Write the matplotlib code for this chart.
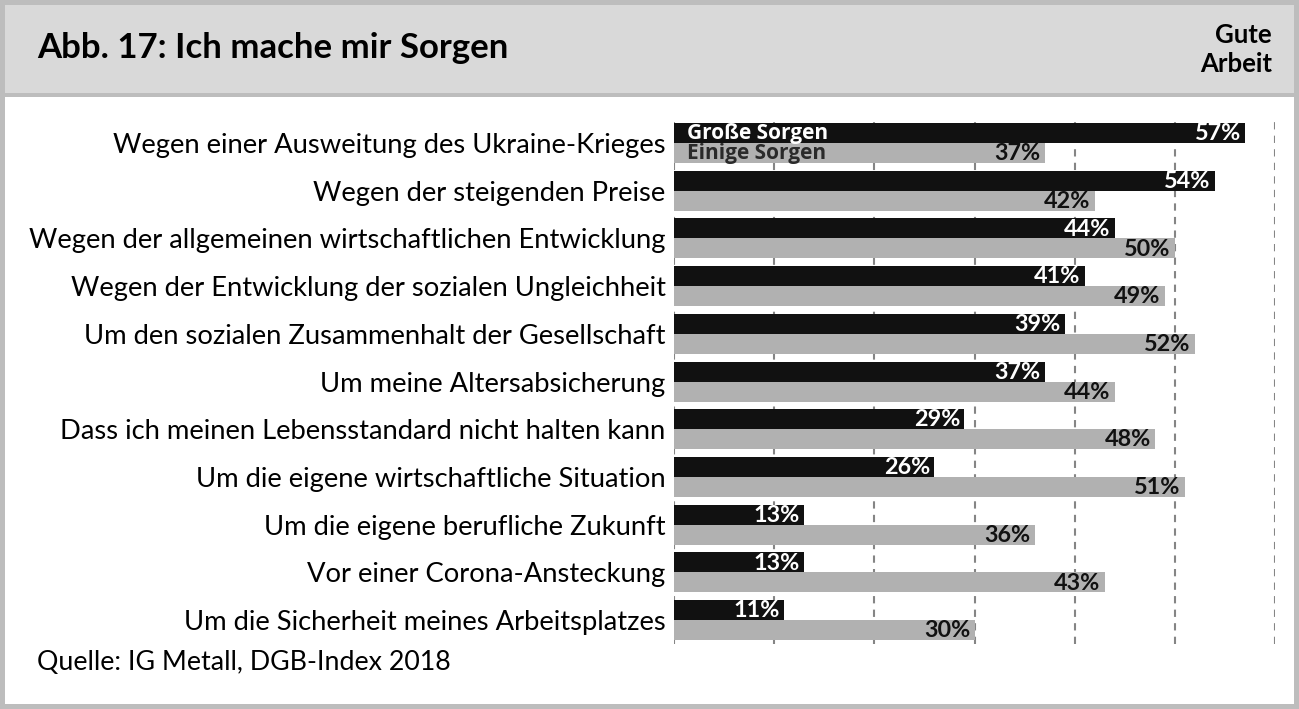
import matplotlib
matplotlib.use('Agg')
import matplotlib.pyplot as plt
from matplotlib.patches import Rectangle
import numpy as np

W, H = 1299, 709

categories = [
    'Wegen einer Ausweitung des Ukraine-Krieges',
    'Wegen der steigenden Preise',
    'Wegen der allgemeinen wirtschaftlichen Entwicklung',
    'Wegen der Entwicklung der sozialen Ungleichheit',
    'Um den sozialen Zusammenhalt der Gesellschaft',
    'Um meine Altersabsicherung',
    'Dass ich meinen Lebensstandard nicht halten kann',
    'Um die eigene wirtschaftliche Situation',
    'Um die eigene berufliche Zukunft',
    'Vor einer Corona-Ansteckung',
    'Um die Sicherheit meines Arbeitsplatzes',
]
grosse = [57, 54, 44, 41, 39, 37, 29, 26, 13, 13, 11]
einige = [37, 42, 50, 49, 52, 44, 48, 51, 36, 43, 30]
series_names = ['Große Sorgen', 'Einige Sorgen']

BLACK = '#111111'
GREY = '#b1b1b1'
BORDER = '#bdbdbd'
HEADER = '#d9d9d9'

plt.rcParams['font.family'] = ['Lato', 'DejaVu Sans']

fig = plt.figure(figsize=(W / 100, H / 100), dpi=100)


def px_rect(x0, y0, x1, y1, color):
    fig.add_artist(Rectangle((x0 / W, 1 - y1 / H), (x1 - x0) / W, (y1 - y0) / H,
                             transform=fig.transFigure, facecolor=color,
                             edgecolor='none', zorder=-10))


# frame and header band
px_rect(0, 0, W, H, BORDER)
px_rect(5, 5, W - 5, H - 5, 'white')
px_rect(5, 5, W - 5, 93, HEADER)
px_rect(5, 93, W - 5, 97, BORDER)

fig.text(37 / W, 1 - 48 / H, 'Abb. 17: Ich mache mir Sorgen', fontsize=25,
         fontweight='bold', ha='left', va='center')
fig.text(1272 / W, 1 - 35 / H, 'Gute', fontsize=18.5, fontweight='bold',
         ha='right', va='center')
fig.text(1272 / W, 1 - 64 / H, 'Arbeit', fontsize=18.5, fontweight='bold',
         ha='right', va='center')
fig.text(37 / W, 1 - 663 / H, 'Quelle: IG Metall, DGB-Index 2018', fontsize=19.3,
         ha='left', va='center')

# axes: x 0..60 -> px 674..1275
pitch = 47.7
top_px = 123 - 0.13 * pitch
bot_px = top_px + 11.05 * pitch
ax = fig.add_axes([674 / W, 1 - bot_px / H, 601 / W, (bot_px - top_px) / H])
ax.set_facecolor('none')

y = np.arange(len(categories))
h = 0.42
ax.barh(y - h / 2, grosse, height=h, color=BLACK, zorder=2)
ax.barh(y + h / 2, einige, height=h, color=GREY, zorder=2)

ax.set_xlim(0, 60)
ax.set_ylim(len(categories) - 0.5, -0.55)
ax.set_xticks(range(0, 70, 10))
ax.set_xticklabels([])
ax.grid(axis='x', color='#858585', linestyle=(0, (3.5, 3)), linewidth=1.5, zorder=0)
ax.set_axisbelow(True)
ax.tick_params(axis='both', length=0)
for s in ax.spines.values():
    s.set_visible(False)

ax.set_yticks(y)
ax.set_yticklabels(categories, fontsize=19.7)
ax.tick_params(axis='y', pad=6)

num_font = dict(fontweight='bold', fontsize=16.8)
for i in range(len(categories)):
    ax.annotate(f'{grosse[i]}%', (grosse[i], i - h / 2), xytext=(-3, -0.5),
                textcoords='offset points', ha='right', va='center',
                color='white', zorder=3, **num_font)
    ax.annotate(f'{einige[i]}%', (einige[i], i + h / 2), xytext=(-3, -0.5),
                textcoords='offset points', ha='right', va='center',
                color=BLACK, zorder=3, **num_font)

# legend labels inside the first row bars
leg_font = dict(family=['Open Sans', 'DejaVu Sans'], fontweight='bold', fontsize=15)
ax.annotate(series_names[0], (0, -h / 2), xytext=(9, 0), textcoords='offset points',
            ha='left', va='center', color='white', zorder=3, **leg_font)
ax.annotate(series_names[1], (0, h / 2), xytext=(9, 0), textcoords='offset points',
            ha='left', va='center', color='#2a2a2a', zorder=3, **leg_font)

fig.savefig('out.png', dpi=100)
